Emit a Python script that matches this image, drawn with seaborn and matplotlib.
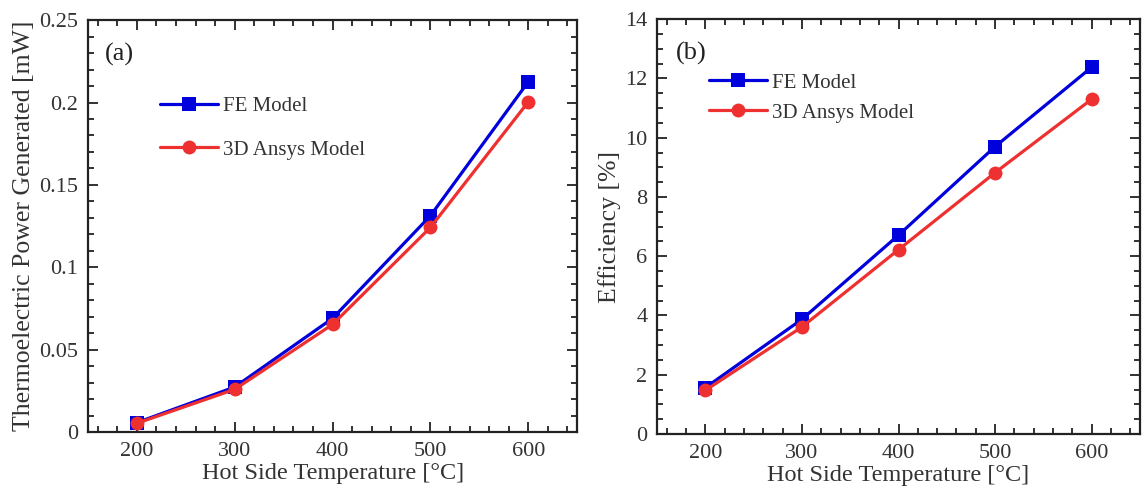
import numpy as np
import pandas as pd
import matplotlib
matplotlib.use("Agg")
import matplotlib.pyplot as plt
from matplotlib.ticker import MultipleLocator, FuncFormatter
import seaborn as sns

temps = [200, 300, 400, 500, 600]
power_fe = [0.0057, 0.0273, 0.0690, 0.1313, 0.2126]
power_ansys = [0.0053, 0.0259, 0.0653, 0.1242, 0.2004]
eff_fe = [1.56, 3.87, 6.71, 9.70, 12.38]
eff_ansys = [1.47, 3.61, 6.22, 8.82, 11.30]
series_names = ["FE Model", "3D Ansys Model"]
panel_tags = ["(a)", "(b)"]
xlabel = "Hot Side Temperature [°C]"
ylabels = ["Thermoelectric Power Generated [mW]", "Efficiency [%]"]

sns.set_style("ticks")
plt.rcParams['font.family'] = ['Liberation Serif', 'DejaVu Serif']

colors = {"FE Model": "#0000DD", "3D Ansys Model": "#EE3030"}
markers = {"FE Model": "s", "3D Ansys Model": "o"}

fig = plt.figure(figsize=(11.43, 4.92), dpi=100)
ax1 = fig.add_axes([0.077, 0.122, 0.428, 0.837])
ax2 = fig.add_axes([0.5748, 0.118, 0.4226, 0.843])

def make_df(fe, an):
    return pd.DataFrame({
        "T": temps * 2,
        "v": list(fe) + list(an),
        "Model": [series_names[0]] * len(temps) + [series_names[1]] * len(temps),
    })

df1 = make_df(power_fe, power_ansys)
df2 = make_df(eff_fe, eff_ansys)

for ax, df in [(ax1, df1), (ax2, df2)]:
    sns.lineplot(data=df, x="T", y="v", hue="Model", style="Model",
                 palette=colors, markers=markers, dashes=False,
                 linewidth=2.3, markersize=10, markeredgewidth=0,
                 ax=ax, legend=True)

def style_axis(ax, ylim, ymajor, yminor, fmt):
    ax.set_xlim(150, 650)
    ax.set_ylim(*ylim)
    ax.xaxis.set_major_locator(MultipleLocator(100))
    ax.xaxis.set_minor_locator(MultipleLocator(20))
    ax.yaxis.set_major_locator(MultipleLocator(ymajor))
    ax.yaxis.set_minor_locator(MultipleLocator(yminor))
    ax.yaxis.set_major_formatter(fmt)
    ax.tick_params(which="both", direction="in", top=True, right=True,
                   width=1.3, colors="#222222", labelcolor="#333333")
    ax.tick_params(which="major", length=7, labelsize=16, pad=7)
    ax.tick_params(which="minor", length=4)
    for s in ax.spines.values():
        s.set_linewidth(1.6)
        s.set_color("#222222")
        s.set_visible(True)
    ax.set_xlabel(xlabel, fontsize=17.5, color="#333333", labelpad=2)

fmt = FuncFormatter(lambda v, p: f"{v:g}")
style_axis(ax1, (0, 0.25), 0.05, 0.01, fmt)
style_axis(ax2, (0, 14), 2, 0.5, fmt)
ax1.set_ylabel(ylabels[0], fontsize=18.5, color="#333333", labelpad=3)
ax2.set_ylabel(ylabels[1], fontsize=18.5, color="#333333", labelpad=3)

ax1.text(0.035, 0.945, panel_tags[0], transform=ax1.transAxes, fontsize=19,
         va="top", ha="left", color="#222222")
ax2.text(0.04, 0.945, panel_tags[1], transform=ax2.transAxes, fontsize=19,
         va="top", ha="left", color="#222222")

leg1 = ax1.legend(loc="upper left", bbox_to_anchor=(0.13, 0.835), frameon=False,
                  fontsize=15, handlelength=2.8, handletextpad=0.25,
                  labelspacing=1.15, borderaxespad=0)
leg2 = ax2.legend(loc="upper left", bbox_to_anchor=(0.09, 0.89), frameon=False,
                  fontsize=15, handlelength=2.8, handletextpad=0.25,
                  labelspacing=0.5, borderaxespad=0)
for leg in (leg1, leg2):
    for t in leg.get_texts():
        t.set_color("#333333")

fig.savefig("out.png", dpi=100)
